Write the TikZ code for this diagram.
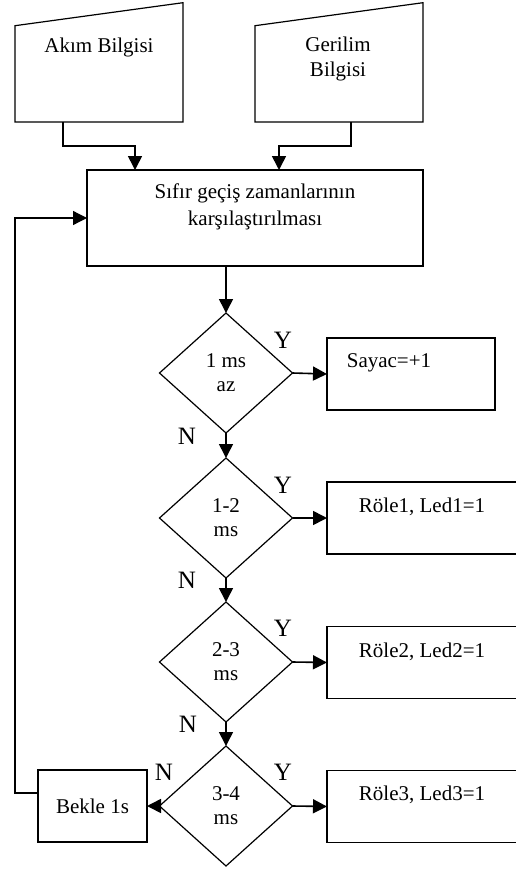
\documentclass[tikz,border=0pt]{standalone}
\usepackage{fontspec}
\setmainfont{Liberation Serif}
\usetikzlibrary{shapes.geometric,arrows.meta}
\begin{document}
\begin{tikzpicture}[x=1pt,y=-1pt,
  box/.style={draw,line width=1.2pt,inner sep=0pt,outer sep=0pt},
  dec/.style={draw,diamond,line width=1.2pt,inner sep=0pt,outer sep=0pt,
    minimum width=133pt,minimum height=120pt,align=center,
    font=\fontsize{21}{24}\selectfont},
  txt/.style={align=center,inner sep=0pt,font=\fontsize{21}{25}\selectfont},
  lab/.style={inner sep=0pt,font=\fontsize{25}{28}\selectfont},
  arr/.style={line width=1.6pt,-{Triangle[length=14pt,width=14pt]}},
  ]
\useasboundingbox (0,0) rectangle (516,870);
% input shapes
\draw[box] (15,25.7) -- (183,2.7) -- (183,122) -- (15,122) -- cycle;
\coordinate (akimout) at (63,122);
\draw[box] (255,25.7) -- (423,2.7) -- (423,122) -- (255,122) -- cycle;
\coordinate (gerout) at (351,122);
\node[txt] (akimt) at (99,47) {Akım Bilgisi};
\node[txt] (gert) at (338,58.5) {Gerilim\\Bilgisi};
% compare box
\node[box,minimum width=336pt,minimum height=96pt] (sifir) at (255,218) {};
\node[txt,font=\fontsize{21}{27}\selectfont] (sifirt) at (255,206.5) {Sıfır geçiş zamanlarının\\karşılaştırılması};
% decisions
\node[dec] (d1) at (226,373) {1 ms\\az};
\node[dec] (d2) at (226,518) {1-2\\ms};
\node[dec] (d3) at (226,662) {2-3\\ms};
\node[dec] (d4) at (226,806) {3-4\\ms};
% action boxes
\node[box,minimum width=168pt,minimum height=72pt] (sayac) at (411,374) {};
\node[txt] (sayact) at (389,363) {Sayac=+1};
\node[box,minimum width=191pt,minimum height=72pt] (r1) at (422.5,518) {};
\node[txt] (r1t) at (422,507) {Röle1, Led1=1};
\node[box,minimum width=191pt,minimum height=72pt] (r2) at (422.5,662.5) {};
\node[txt] (r2t) at (422,652) {Röle2, Led2=1};
\node[box,minimum width=191pt,minimum height=72pt] (r3) at (422.5,806.5) {};
\node[txt] (r3t) at (422,795) {Röle3, Led3=1};
\node[box,minimum width=109pt,minimum height=72pt,font=\fontsize{21}{25}\selectfont] (bekle) at (92.5,806) {Bekle 1s};
% labels
\node[lab] (y1) at (283,340) {Y};
\node[lab] (y2) at (283,485) {Y};
\node[lab] (y3) at (283,628) {Y};
\node[lab] (y4) at (283,772) {Y};
\node[lab] (n1) at (187,436) {N};
\node[lab] (n2) at (187,580) {N};
\node[lab] (n3) at (188,724) {N};
\node[lab] (n4) at (164,772) {N};
% connectors
\draw[arr] (akimout) -- ++(0,24) -| ([xshift=48pt]sifir.north west);
\draw[arr] (gerout) -- ++(0,24) -| ([xshift=-144pt]sifir.north east);
\draw[arr] (sifir.south -| d1.north) -- (d1.north);
\draw[arr] (d1.south) -- (d2.north);
\draw[arr] (d2.south) -- (d3.north);
\draw[arr] (d3.south) -- (d4.north);
\draw[arr] (d1.east) -- (sayac.west);
\draw[arr] (d2.east) -- (r1.west);
\draw[arr] (d3.east) -- (r2.west);
\draw[arr] (d4.east) -- (r3.west);
\draw[arr] (d4.west) -- (bekle.east);
\draw[arr,line width=1.3pt] ([yshift=13pt]bekle.west) -- ++(-23,0) |- (sifir.west);
\end{tikzpicture}
\end{document}
